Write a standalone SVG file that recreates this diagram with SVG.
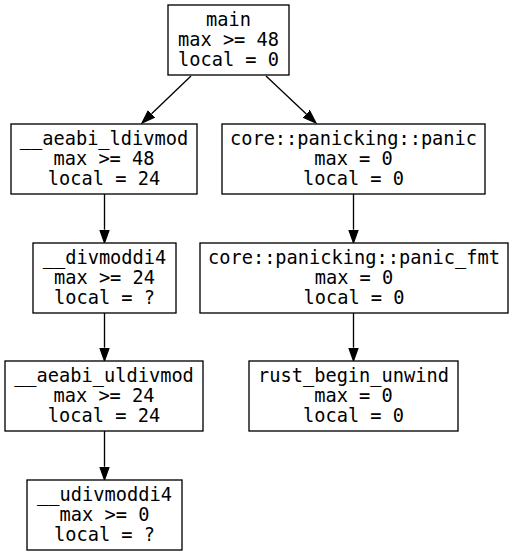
<svg xmlns="http://www.w3.org/2000/svg" width="513" height="556" viewBox="0 0 513 556">
<style>
.box{fill:#fff;stroke:#000;stroke-width:1.33}
.t{font-family:"DejaVu Sans Mono",monospace;font-size:18.67px;fill:#000;text-anchor:middle}
.e{stroke:#000;stroke-width:1.33;fill:none;marker-end:url(#arr)}
</style>
<defs>
<marker id="arr" markerUnits="userSpaceOnUse" markerWidth="16" markerHeight="12" refX="0" refY="5" orient="auto" viewBox="0 0 16 12">
<path d="M0,0.3 L13.3,5 L0,9.7 z" fill="#000" stroke="#000" stroke-width="1.2"/>
</marker>
</defs>
<rect width="513" height="556" fill="#fff"/>
<g id="connectors">
<path class="e" d="M191,76 L151.6,113.8"/>
<path class="e" d="M266,76 L306.3,113.9"/>
<path class="e" d="M104.5,194 L104.5,229.7"/>
<path class="e" d="M353.5,194 L353.5,229.7"/>
<path class="e" d="M104.5,313 L104.5,347.7"/>
<path class="e" d="M353.5,313 L353.5,347.7"/>
<path class="e" d="M104.5,431 L104.5,466.7"/>
</g>
<g id="main"><rect class="box" x="168" y="5" width="121" height="70"/>
<text class="t" x="228.5" y="26">main</text><text class="t" x="228.5" y="46">max &gt;= 48</text><text class="t" x="228.5" y="66">local = 0</text></g>
<g id="aeabi_ldivmod"><rect class="box" x="11" y="124" width="186" height="70"/>
<text class="t" x="104" y="145">__aeabi_ldivmod</text><text class="t" x="104" y="165">max &gt;= 48</text><text class="t" x="104" y="185">local = 24</text></g>
<g id="panic"><rect class="box" x="222" y="124" width="263" height="70"/>
<text class="t" x="353.5" y="145">core::panicking::panic</text><text class="t" x="353.5" y="165">max = 0</text><text class="t" x="353.5" y="185">local = 0</text></g>
<g id="divmoddi4"><rect class="box" x="33" y="243" width="143" height="70"/>
<text class="t" x="104.5" y="264">__divmoddi4</text><text class="t" x="104.5" y="284">max &gt;= 24</text><text class="t" x="104.5" y="304">local = ?</text></g>
<g id="panic_fmt"><rect class="box" x="200" y="243" width="308" height="70"/>
<text class="t" x="354" y="264">core::panicking::panic_fmt</text><text class="t" x="354" y="284">max = 0</text><text class="t" x="354" y="304">local = 0</text></g>
<g id="aeabi_uldivmod"><rect class="box" x="5" y="361" width="198" height="70"/>
<text class="t" x="104" y="382">__aeabi_uldivmod</text><text class="t" x="104" y="402">max &gt;= 24</text><text class="t" x="104" y="422">local = 24</text></g>
<g id="rust_begin_unwind"><rect class="box" x="249" y="361" width="209" height="70"/>
<text class="t" x="353.5" y="382">rust_begin_unwind</text><text class="t" x="353.5" y="402">max = 0</text><text class="t" x="353.5" y="422">local = 0</text></g>
<g id="udivmoddi4"><rect class="box" x="27" y="480" width="155" height="70"/>
<text class="t" x="104.5" y="501">__udivmoddi4</text><text class="t" x="104.5" y="521">max &gt;= 0</text><text class="t" x="104.5" y="541">local = ?</text></g>
</svg>
